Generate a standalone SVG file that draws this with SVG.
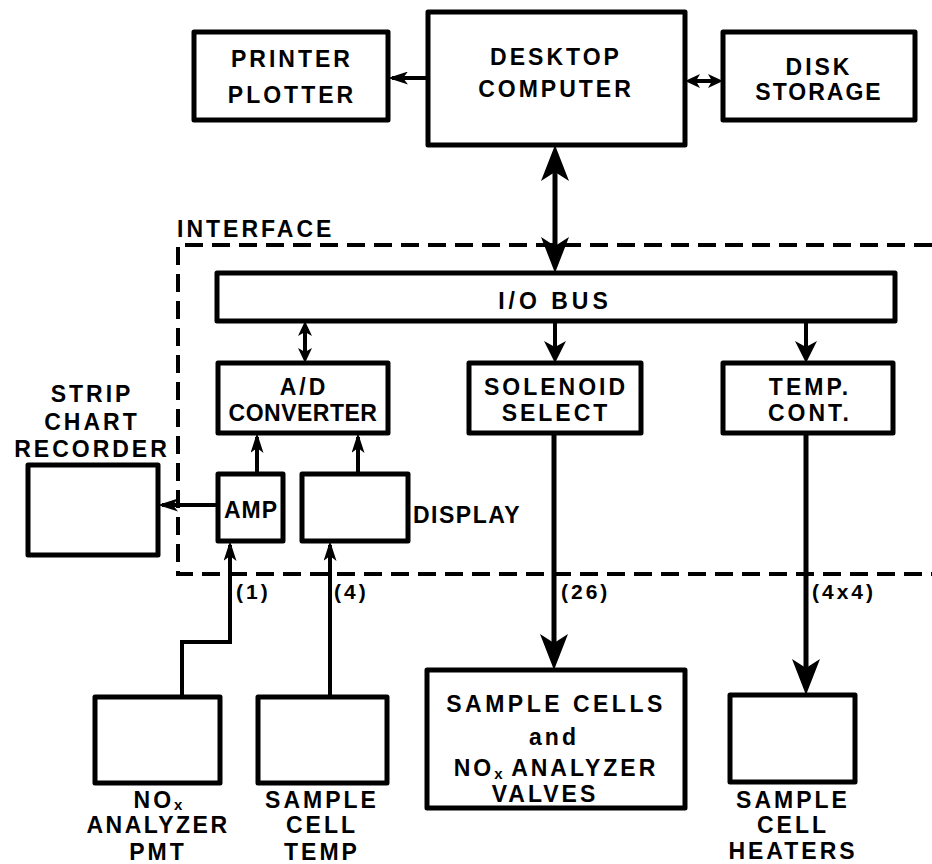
<svg xmlns="http://www.w3.org/2000/svg" width="932" height="864" viewBox="0 0 932 864">
<style>
.box{fill:#fff;stroke:#000;stroke-width:5;stroke-linejoin:round}
.ln{fill:none;stroke:#000;stroke-width:4}
.thick{stroke-width:5}
.dash{fill:none;stroke:#000;stroke-width:4;stroke-dasharray:18 9}
text{font-family:"Liberation Sans",Arial,Helvetica,sans-serif;font-weight:bold;font-size:23px;letter-spacing:3px;fill:#000}
.c{text-anchor:middle}
.s{font-size:21px}
.sub{font-size:15px;letter-spacing:0}
</style>
<defs>
<marker id="big" viewBox="0 0 36 28" refX="28" refY="14" markerWidth="36" markerHeight="28" markerUnits="userSpaceOnUse" orient="auto-start-reverse"><path d="M0,0 L36,14 L0,28 L9,14 z" fill="#000"/></marker>
<marker id="med" viewBox="0 0 22 22" refX="16" refY="11" markerWidth="22" markerHeight="22" markerUnits="userSpaceOnUse" orient="auto-start-reverse"><path d="M0,0 L22,11 L0,22 L6,11 z" fill="#000"/></marker>
<marker id="sm" viewBox="0 0 20 13" refX="16" refY="6.5" markerWidth="20" markerHeight="13" markerUnits="userSpaceOnUse" orient="auto-start-reverse"><path d="M0,0 L20,6.5 L0,13 L5,6.5 z" fill="#000"/></marker>
<marker id="tiny" viewBox="0 0 15 14" refX="11" refY="7" markerWidth="15" markerHeight="14" markerUnits="userSpaceOnUse" orient="auto-start-reverse"><path d="M0,0 L15,7 L0,14 L4,7 z" fill="#000"/></marker>
</defs>

<g id="interface">
<path class="dash" d="M932,245 H178 V574 H932"/>
<text x="177" y="237">INTERFACE</text>
</g>

<g id="connectors">
<line class="ln" x1="428" y1="78" x2="392" y2="78" marker-end="url(#sm)"/>
<line class="ln" x1="689" y1="81" x2="719" y2="81" marker-start="url(#tiny)" marker-end="url(#tiny)"/>
<line class="ln thick" x1="555" y1="153" x2="555" y2="265" marker-start="url(#big)" marker-end="url(#big)"/>
<line class="ln" x1="305" y1="325" x2="305" y2="359" marker-start="url(#tiny)" marker-end="url(#tiny)"/>
<line class="ln" x1="555" y1="321" x2="555" y2="357" marker-end="url(#med)"/>
<line class="ln" x1="806" y1="321" x2="806" y2="357" marker-end="url(#med)"/>
<line class="ln" x1="257" y1="474" x2="257" y2="437" marker-end="url(#sm)"/>
<line class="ln" x1="358" y1="474" x2="358" y2="437" marker-end="url(#sm)"/>
<line class="ln" x1="218" y1="505" x2="162" y2="505" marker-end="url(#sm)"/>
<polyline class="ln" points="182,697 182,642 230,642 230,545" marker-end="url(#sm)"/>
<line class="ln" x1="330" y1="697" x2="330" y2="545" marker-end="url(#sm)"/>
<line class="ln thick" x1="554" y1="433" x2="554" y2="662" marker-end="url(#big)"/>
<line class="ln thick" x1="806" y1="433" x2="806" y2="687" marker-end="url(#big)"/>
<text class="s" x="236" y="599">(1)</text>
<text class="s" x="334" y="599">(4)</text>
<text class="s" x="561" y="599">(26)</text>
<text class="s" x="812" y="599">(4x4)</text>
</g>

<g id="printer">
<rect class="box" x="194" y="32" width="194" height="88"/>
<text class="c" x="292" y="67">PRINTER</text>
<text class="c" x="292" y="103">PLOTTER</text>
</g>

<g id="computer">
<rect class="box" x="428" y="12" width="257" height="133"/>
<text class="c" x="556" y="65">DESKTOP</text>
<text class="c" x="556" y="97">COMPUTER</text>
</g>

<g id="disk">
<rect class="box" x="723" y="32" width="192" height="88"/>
<text class="c" x="819" y="75">DISK</text>
<text class="c" x="819" y="100" style="letter-spacing:2px">STORAGE</text>
</g>

<g id="iobus">
<rect class="box" x="217" y="273" width="678" height="48"/>
<text class="c" x="555" y="309" style="letter-spacing:4px">I/O BUS</text>
</g>

<g id="adc">
<rect class="box" x="218" y="363" width="170" height="70"/>
<text class="c" x="304" y="395">A/D</text>
<text class="c" x="303" y="421" style="letter-spacing:0.5px">CONVERTER</text>
</g>

<g id="solenoid">
<rect class="box" x="469" y="363" width="172" height="70"/>
<text class="c" x="556" y="395">SOLENOID</text>
<text class="c" x="556" y="421">SELECT</text>
</g>

<g id="tempcont">
<rect class="box" x="723" y="363" width="170" height="70"/>
<text class="c" x="810" y="395">TEMP.</text>
<text class="c" x="810" y="421">CONT.</text>
</g>

<g id="amp">
<rect class="box" x="218" y="474" width="65" height="67"/>
<text class="c" x="251" y="518" style="letter-spacing:1px">AMP</text>
</g>

<g id="display">
<rect class="box" x="302" y="474" width="106" height="67"/>
<text x="413" y="523" style="letter-spacing:1.5px">DISPLAY</text>
</g>

<g id="stripchart">
<rect class="box" x="28" y="465" width="130" height="90"/>
<text class="c" x="92" y="402">STRIP</text>
<text class="c" x="92" y="430">CHART</text>
<text class="c" x="92" y="457">RECORDER</text>
</g>

<g id="noxpmt">
<rect class="box" x="95" y="697" width="125" height="86"/>
<text class="c" x="158" y="808">NO<tspan class="sub" dy="2">x</tspan></text>
<text class="c" x="158" y="833" style="letter-spacing:2.5px">ANALYZER</text>
<text class="c" x="158" y="860">PMT</text>
</g>

<g id="celltemp">
<rect class="box" x="258" y="697" width="129" height="86"/>
<text class="c" x="322" y="808">SAMPLE</text>
<text class="c" x="322" y="833">CELL</text>
<text class="c" x="322" y="860">TEMP</text>
</g>

<g id="samplecells">
<rect class="box" x="427" y="670" width="258" height="138"/>
<text class="c" x="556" y="712" style="letter-spacing:3.5px">SAMPLE CELLS</text>
<text class="c" x="554" y="745">and</text>
<text class="c" x="556" y="776">NO<tspan class="sub" dy="3">x</tspan><tspan dy="-3"> ANALYZER</tspan></text>
<text class="c" x="545" y="802">VALVES</text>
</g>

<g id="heaters">
<rect class="box" x="730" y="695" width="125" height="87"/>
<text class="c" x="793" y="808">SAMPLE</text>
<text class="c" x="793" y="833">CELL</text>
<text class="c" x="793" y="859">HEATERS</text>
</g>
</svg>
